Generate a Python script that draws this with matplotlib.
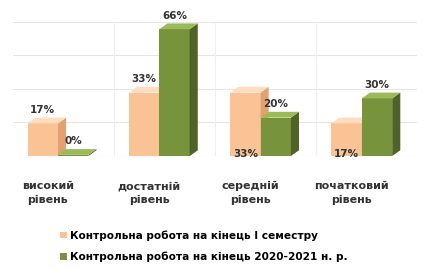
import matplotlib
matplotlib.use("Agg")
import matplotlib.pyplot as plt
from matplotlib.patches import Polygon
import numpy as np

categories = ["високий\nрівень", "достатній\nрівень", "середній\nрівень", "початковий\nрівень"]
series_names = ["Контрольна робота на кінець І семестру",
                "Контрольна робота на кінець 2020-2021 н. р."]
sem1 = [17, 33, 33, 17]
year = [0, 66, 20, 30]
# where each value label sits: 'top' above the bar, 'base' at its foot
sem1_label_pos = ["top", "top", "base", "base"]
year_label_pos = ["top", "top", "top", "top"]

face_cols = ["#FAC396", "#77933C"]
side_cols = ["#E2A270", "#4F6228"]
top_cols = ["#FDDDBD", "#9BBB59"]

fig = plt.figure(figsize=(4.25, 2.69), dpi=100)
ax = fig.add_axes([0.03, 0.42, 0.95, 0.50])
ax.set_xlim(-0.447, 3.54)
ax.set_ylim(0, 70)

for gy in [0, 17.5, 35, 52.5, 70]:
    ax.axhline(gy, color="#E6E6E6", lw=0.8, zorder=0)
for gx in [0.55, 1.55, 2.55]:
    ax.axvline(gx, color="#EFEFEF", lw=0.8, zorder=0)

x = np.arange(len(categories))
w = 0.30
dx, dy = 0.08, 3.0

for si, (vals, lpos) in enumerate([(sem1, sem1_label_pos), (year, year_label_pos)]):
    off = -0.15 if si == 0 else 0.15
    for xi, v, lp in zip(x, vals, lpos):
        xc = xi + off
        h = max(v, 0.6)
        ax.bar(xc, h, width=w, color=face_cols[si], edgecolor="none", zorder=3 + si)
        r = xc + w / 2
        l = xc - w / 2
        ax.add_patch(Polygon([(r, 0), (r + dx, dy), (r + dx, h + dy), (r, h)],
                             closed=True, fc=side_cols[si], ec="none", zorder=3 + si))
        ax.add_patch(Polygon([(l, h), (l + dx, h + dy), (r + dx, h + dy), (r, h)],
                             closed=True, fc=top_cols[si], ec="none", zorder=3 + si))
        if lp == "top":
            ax.text(xc, h + dy + 1.5, f"{v}%", ha="center", va="bottom",
                    fontsize=7.5, fontweight="bold", color="#333333", zorder=6)
        else:
            ax.text(xc, 1.0, f"{v}%", ha="center", va="center",
                    fontsize=7.5, fontweight="bold", color="#333333", zorder=6)

ax.set_xticks(x - 0.1)
ax.set_xticklabels(categories, fontsize=8, fontweight="bold", color="#333333",
                   linespacing=1.5)
ax.tick_params(axis="x", length=0, pad=18)
ax.set_yticks([])
for s in ax.spines.values():
    s.set_visible(False)

handles = [plt.Rectangle((0, 0), 1, 1, fc=face_cols[0]),
           plt.Rectangle((0, 0), 1, 1, fc=face_cols[1])]
fig.legend(handles, series_names, loc="center", bbox_to_anchor=(0.48, 0.085),
           ncol=1, frameon=False, prop={"weight": "bold", "size": 7.6},
           handlelength=0.6, handleheight=0.6, handletextpad=0.3, labelspacing=1.0)

fig.savefig("out.png", dpi=100)
